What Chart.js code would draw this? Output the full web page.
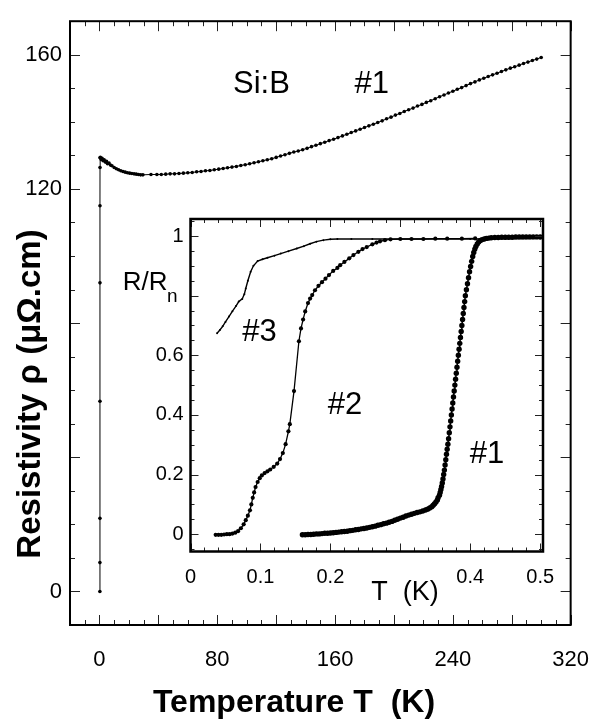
<!DOCTYPE html>
<html>
<head>
<meta charset="utf-8">
<script src="https://cdn.jsdelivr.net/npm/chart.js@4.4.1/dist/chart.umd.min.js"></script>
<style>
    html, body { margin: 0; padding: 0; background: #fff; }
    #wrap { position: relative; width: 611px; height: 727px; }
    #mainChart { position: absolute; left: 0; top: 0; }
    #insetChart { position: absolute; left: 100px; top: 200px; }
</style>
</head>
<body>
<div id="wrap">
    <canvas id="mainChart" width="611" height="727"></canvas>
    <canvas id="insetChart" width="470" height="410"></canvas>
</div>
<script>
// ---- main plot: resistivity vs T (K) ----
const mainT = [0.30, 0.32, 0.34, 0.35, 0.36, 0.37, 0.38, 0.40,
    0.6, 1.2, 1.8, 2.5, 3.2, 4, 4.8, 5.5, 6.5, 7.5, 8.5, 10, 11.5, 13, 14.5, 16, 17.5, 19, 20.5, 22, 23.5, 25, 26.5, 28, 29.5,
    35, 39, 42, 45, 48, 51, 54, 57, 60, 63, 66, 69, 72, 75, 78, 81, 84, 87, 90, 93, 96, 99,
    102, 105, 108, 111, 114, 117, 120, 123, 126, 129, 132, 135, 138, 141, 144, 147, 150,
    153, 156, 159, 162, 165, 168, 171, 174, 177, 180, 183, 186, 189, 192, 195, 198,
    201, 204, 207, 210, 213, 216, 219, 222, 225, 228, 231, 234, 237, 240, 243, 246, 249,
    252, 255, 258, 261, 264, 267, 270, 273, 276, 279, 282, 285, 288, 291, 294, 297, 300];
const mainRho = [0, 8.6, 21.8, 56.7, 92, 115, 126.4, 129.3,
    129.4, 128.8, 129.1, 128.4, 128.7, 128.0, 128.2, 127.5, 127.7, 127.1, 126.9, 126.4, 126.0, 125.7, 125.4, 125.2, 125.0, 124.8, 124.7, 124.6, 124.5, 124.4, 124.3, 124.2, 124.2,
    124.3, 124.3, 124.3, 124.4, 124.5, 124.5, 124.6, 124.7, 124.8, 124.9, 125.1, 125.2, 125.4, 125.5, 125.7, 125.9, 126.1, 126.3, 126.5, 126.7, 127.0, 127.2,
    127.5, 127.8, 128.1, 128.4, 128.7, 129.0, 129.4, 129.8, 130.2, 130.6, 131.0, 131.3, 131.7, 132.1, 132.6, 133.0, 133.5,
    133.9, 134.4, 134.8, 135.3, 135.8, 136.3, 136.8, 137.3, 137.8, 138.3, 138.8, 139.3, 139.8, 140.3, 140.9, 141.4,
    142.0, 142.5, 143.1, 143.6, 144.1, 144.7, 145.2, 145.8, 146.3, 146.9, 147.5, 148.0, 148.6, 149.1, 149.7, 150.2, 150.8,
    151.4, 151.9, 152.5, 153.0, 153.5, 154.0, 154.5, 155.0, 155.5, 156.0, 156.4, 156.9, 157.4, 157.8, 158.3, 158.7, 159.2];
const mainXLabels = [0, 80, 160, 240, 320];
const mainYLabels = [0, 120, 160];

// ---- inset: R/Rn vs T (K) for samples #1, #2, #3 ----
const s1T = [0.160, 0.164, 0.168, 0.172, 0.176, 0.180, 0.184, 0.188, 0.192, 0.196, 0.200, 0.204, 0.208, 0.212, 0.216, 0.220,
    0.224, 0.228, 0.232, 0.236, 0.240, 0.244, 0.248, 0.252, 0.256, 0.260, 0.264, 0.268, 0.272, 0.276, 0.280, 0.284,
    0.288, 0.292, 0.296, 0.300, 0.304, 0.308, 0.312, 0.316, 0.320, 0.324, 0.328, 0.332, 0.336, 0.339, 0.342, 0.345,
    0.347, 0.349, 0.351, 0.353, 0.354, 0.356, 0.357, 0.358, 0.359, 0.360, 0.361, 0.362, 0.363, 0.364, 0.365, 0.366,
    0.367, 0.368, 0.369, 0.370, 0.371, 0.372, 0.373, 0.374, 0.375, 0.376, 0.377, 0.378, 0.379, 0.380, 0.381, 0.382,
    0.383, 0.384, 0.385, 0.386, 0.387, 0.388, 0.389, 0.390, 0.391, 0.392, 0.393, 0.3945, 0.396, 0.3975, 0.399, 0.4005,
    0.402, 0.4035, 0.405, 0.4065, 0.408, 0.410, 0.412, 0.4145, 0.417, 0.420, 0.423, 0.4265, 0.430, 0.435, 0.440, 0.445,
    0.450, 0.455, 0.460, 0.465, 0.470, 0.475, 0.480, 0.485, 0.490, 0.495, 0.500];
const s1R = [-0.002, -0.002, -0.001, -0.001, 0.000, 0.001, 0.001, 0.002, 0.003, 0.003, 0.004, 0.005, 0.006, 0.007, 0.008, 0.009,
    0.010, 0.012, 0.013, 0.015, 0.016, 0.018, 0.019, 0.021, 0.023, 0.025, 0.027, 0.030, 0.032, 0.035, 0.037, 0.040,
    0.043, 0.047, 0.050, 0.054, 0.057, 0.061, 0.064, 0.067, 0.070, 0.073, 0.075, 0.078, 0.081, 0.084, 0.088, 0.092,
    0.097, 0.102, 0.108, 0.115, 0.122, 0.131, 0.140, 0.150, 0.160, 0.172, 0.185, 0.200, 0.215, 0.232, 0.250, 0.268,
    0.285, 0.302, 0.320, 0.340, 0.360, 0.380, 0.400, 0.420, 0.440, 0.460, 0.480, 0.500, 0.520, 0.540, 0.560, 0.580,
    0.600, 0.620, 0.640, 0.660, 0.680, 0.700, 0.720, 0.740, 0.760, 0.780, 0.800, 0.820, 0.840, 0.860, 0.880, 0.898,
    0.915, 0.931, 0.945, 0.956, 0.965, 0.973, 0.980, 0.985, 0.988, 0.990, 0.992, 0.993, 0.994, 0.995, 0.995, 0.996,
    0.996, 0.996, 0.996, 0.997, 0.997, 0.997, 0.997, 0.997, 0.997, 0.997, 0.997];
const s2T = [0.036, 0.040, 0.044, 0.048, 0.052, 0.056, 0.060, 0.064, 0.068, 0.072, 0.076, 0.079, 0.082, 0.085, 0.087, 0.089,
    0.091, 0.093, 0.096, 0.099, 0.102, 0.106, 0.110, 0.114, 0.119, 0.124, 0.128, 0.132, 0.136, 0.140, 0.142, 0.148,
    0.155, 0.158, 0.161, 0.164, 0.168, 0.171, 0.174, 0.178, 0.183, 0.188, 0.193, 0.198, 0.204, 0.210, 0.214, 0.220,
    0.227, 0.233, 0.240, 0.246, 0.252, 0.260, 0.266, 0.271, 0.278, 0.286, 0.300, 0.316, 0.333, 0.350, 0.367, 0.388, 0.407];
const s2R = [-0.002, -0.002, -0.002, -0.001, 0.000, 0.000, 0.002, 0.005, 0.010, 0.020, 0.033, 0.047, 0.062, 0.080, 0.100, 0.122,
    0.140, 0.158, 0.175, 0.188, 0.197, 0.205, 0.211, 0.217, 0.226, 0.237, 0.252, 0.272, 0.302, 0.345, 0.369, 0.480,
    0.647, 0.690, 0.720, 0.747, 0.775, 0.790, 0.802, 0.818, 0.833, 0.845, 0.857, 0.869, 0.883, 0.893, 0.902, 0.913,
    0.925, 0.936, 0.947, 0.956, 0.963, 0.972, 0.978, 0.982, 0.986, 0.989, 0.990, 0.990, 0.990, 0.991, 0.991, 0.991, 0.992];
const s3T = [0.038, 0.042, 0.046, 0.050, 0.055, 0.060, 0.065, 0.069, 0.074, 0.077, 0.079, 0.082, 0.086, 0.090, 0.096, 0.103,
    0.110, 0.120, 0.129, 0.140, 0.152, 0.162, 0.171, 0.180, 0.190, 0.200, 0.210, 0.230, 0.260, 0.300, 0.350, 0.400, 0.450, 0.500];
const s3R = [0.674, 0.685, 0.697, 0.712, 0.730, 0.748, 0.765, 0.780, 0.789, 0.805, 0.824, 0.850, 0.880, 0.900, 0.916, 0.922,
    0.927, 0.934, 0.941, 0.949, 0.958, 0.966, 0.974, 0.981, 0.986, 0.989, 0.990, 0.990, 0.990, 0.990, 0.990, 0.990, 0.991, 0.992];
const insetXLabels = [0, 0.1, 0.2, 0.4, 0.5];
const insetYLabels = [0, 0.2, 0.4, 0.6, 1];

const pts = (xs, ys) => xs.map((x, i) => ({ x: x, y: ys[i] }));
const FONT = "'Liberation Sans', Arial, sans-serif";

// inward ticks on all four sides + frame box
function drawFrame(chart, o) {
    const { ctx, chartArea: a } = chart;
    ctx.save();
    ctx.strokeStyle = '#222';
    ctx.lineWidth = 1;
    ['x', 'y'].forEach(axis => {
        const s = chart.scales[axis];
        const step = o[axis].step, major = o[axis].major;
        const k0 = Math.ceil(s.min / step - 1e-6), k1 = Math.floor(s.max / step + 1e-6);
        for (let k = k0; k <= k1; k++) {
            const v = k * step;
            const isMajor = Math.abs(v / major - Math.round(v / major)) < 1e-6;
            const len = isMajor ? o.majorLen : o.minorLen;
            const p = Math.round(s.getPixelForValue(v)) + 0.5;
            ctx.beginPath();
            if (axis === 'x') {
                ctx.moveTo(p, a.bottom); ctx.lineTo(p, a.bottom - len);
                ctx.moveTo(p, a.top); ctx.lineTo(p, a.top + len);
            } else {
                ctx.moveTo(a.left, p); ctx.lineTo(a.left + len, p);
                ctx.moveTo(a.right, p); ctx.lineTo(a.right - len, p);
            }
            ctx.stroke();
        }
    });
    ctx.strokeStyle = '#000';
    ctx.lineWidth = o.frameWidth;
    ctx.strokeRect(a.left, a.top, a.right - a.left, a.bottom - a.top);
    ctx.restore();
}

function text(ctx, str, x, y, font, align) {
    ctx.font = font;
    ctx.textAlign = align || 'center';
    ctx.textBaseline = 'alphabetic';
    ctx.fillStyle = '#000';
    ctx.fillText(str, x, y);
}

// Main chart
new Chart(document.getElementById('mainChart'), {
    type: 'scatter',
    data: {
        datasets: [{
            data: pts(mainT, mainRho),
            showLine: true,
            borderColor: '#000',
            borderWidth: 1,
            backgroundColor: '#000',
            pointRadius: 1.8,
            pointBorderWidth: 0
        }]
    },
    options: {
        responsive: false,
        animation: false,
        events: [],
        layout: { padding: { top: 6, right: 25, left: 0, bottom: 0 } },
        scales: {
            x: {
                type: 'linear', min: -20, max: 320,
                grid: { display: false, drawTicks: false },
                border: { display: false },
                afterBuildTicks: s => { s.ticks = mainXLabels.map(v => ({ value: v })); },
                afterFit: s => { s.height = 102; },
                ticks: { padding: 22, color: '#000', font: { family: FONT, size: 22 }, maxRotation: 0, callback: v => String(v) }
            },
            y: {
                type: 'linear', min: -10, max: 170,
                grid: { display: false, drawTicks: false },
                border: { display: false },
                afterBuildTicks: s => { s.ticks = mainYLabels.map(v => ({ value: v })); },
                afterFit: s => { s.width = 70; },
                ticks: { padding: 8, color: '#000', font: { family: FONT, size: 22 }, callback: v => String(v) }
            }
        },
        plugins: { legend: { display: false }, tooltip: { enabled: false } }
    },
    plugins: [{
        id: 'mainDecor',
        afterDraw(chart) {
            const { ctx, scales } = chart;
            drawFrame(chart, { x: { step: 10, major: 40 }, y: { step: 10, major: 40 }, minorLen: 5, majorLen: 10, frameWidth: 2 });
            text(ctx, 'Si:B', scales.x.getPixelForValue(110), scales.y.getPixelForValue(148.7), '31px ' + FONT);
            text(ctx, '#1', scales.x.getPixelForValue(185), scales.y.getPixelForValue(148.7), '31px ' + FONT);
            // axis titles
            text(ctx, 'Temperature T  (K)', 294, 712, 'bold 32px ' + FONT);
            ctx.save();
            ctx.translate(40, 394);
            ctx.rotate(-Math.PI / 2);
            text(ctx, 'Resistivity \u03C1 (\u03BC\u03A9.cm)', 0, 0, 'bold 33px ' + FONT);
            ctx.restore();
        }
    }]
});

// Inset chart
new Chart(document.getElementById('insetChart'), {
    type: 'scatter',
    data: {
        datasets: [
            { label: '#3', data: pts(s3T, s3R), showLine: true, borderColor: '#000', borderWidth: 1.4, backgroundColor: '#000', pointRadius: 1, pointBorderWidth: 0 },
            { label: '#2', data: pts(s2T, s2R), showLine: true, borderColor: '#000', borderWidth: 1.3, backgroundColor: '#000', pointRadius: 2.1, pointBorderWidth: 0 },
            { label: '#1', data: pts(s1T, s1R), showLine: true, borderColor: '#000', borderWidth: 1.5, backgroundColor: '#000', pointRadius: 2.7, pointBorderWidth: 0 }
        ]
    },
    options: {
        responsive: false,
        animation: false,
        events: [],
        layout: { padding: { top: 17, right: 27, left: 0, bottom: 0 } },
        scales: {
            x: {
                type: 'linear', min: 0, max: 0.504,
                grid: { display: false, drawTicks: false },
                border: { display: false },
                afterBuildTicks: s => { s.ticks = insetXLabels.map(v => ({ value: v })); },
                afterFit: s => { s.height = 58.5; },
                ticks: { padding: 14, color: '#000', font: { family: FONT, size: 20 }, maxRotation: 0, callback: v => String(v) }
            },
            y: {
                type: 'linear', min: -0.058, max: 1.057,
                grid: { display: false, drawTicks: false },
                border: { display: false },
                afterBuildTicks: s => { s.ticks = insetYLabels.map(v => ({ value: v })); },
                afterFit: s => { s.width = 90.5; },
                ticks: { padding: 7, color: '#000', font: { family: FONT, size: 20 }, callback: v => String(v) }
            }
        },
        plugins: { legend: { display: false }, tooltip: { enabled: false } }
    },
    plugins: [{
        id: 'insetDecor',
        beforeDatasetsDraw(chart) {
            const { ctx, chartArea: a } = chart;
            ctx.save();
            ctx.fillStyle = '#fff';
            ctx.fillRect(a.left, a.top, a.right - a.left, a.bottom - a.top);
            ctx.restore();
        },
        afterDraw(chart) {
            const { ctx, scales, chartArea: a } = chart;
            drawFrame(chart, { x: { step: 0.02, major: 0.1 }, y: { step: 0.05, major: 0.2 }, minorLen: 4, majorLen: 8, frameWidth: 2.5 });
            text(ctx, '#3', scales.x.getPixelForValue(0.0986), scales.y.getPixelForValue(0.647), '31px ' + FONT);
            text(ctx, '#2', scales.x.getPixelForValue(0.221), scales.y.getPixelForValue(0.403), '31px ' + FONT);
            text(ctx, '#1', scales.x.getPixelForValue(0.424), scales.y.getPixelForValue(0.24), '31px ' + FONT);
            // axis labels
            text(ctx, 'R/R', a.left - 23, a.top + 71, '26px ' + FONT, 'right');
            text(ctx, 'n', a.left - 13, a.top + 83, '19px ' + FONT, 'right');
            text(ctx, 'T  (K)', a.left + 214.5, a.bottom + 48, '27px ' + FONT);
        }
    }]
});
</script>
</body>
</html>
